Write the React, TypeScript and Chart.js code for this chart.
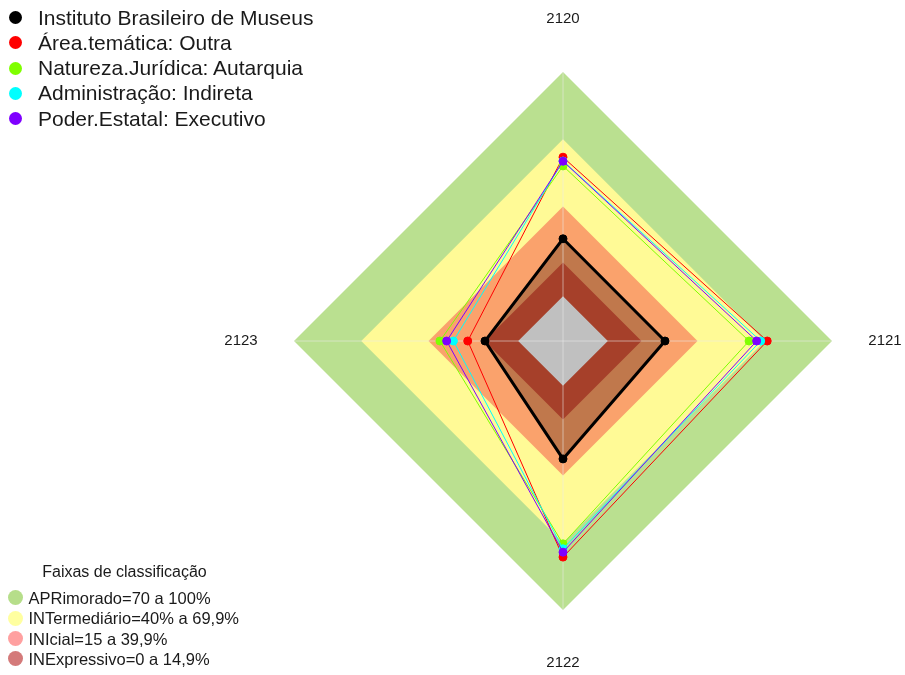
import { useEffect, useRef } from 'react';
import { Chart, registerables } from 'chart.js';

Chart.register(...registerables);

// ---- data ----
const axisLabels = ['2120', '2121', '2122', '2123'];

const seriesNames = [
  'Instituto Brasileiro de Museus',
  'Área.temática: Outra',
  'Natureza.Jurídica: Autarquia',
  'Administração: Indireta',
  'Poder.Estatal: Executivo',
];
const seriesColors = ['#000000', '#FF0000', '#7FFF00', '#00FFFF', '#7F00FF'];

const instituto = [25.6, 25.5, 32.6, 14.8];
const areaTematica = [62.0, 71.1, 76.4, 22.5];
const naturezaJuridica = [58.1, 63.0, 70.5, 34.9];
const administracao = [60.3, 68.2, 72.7, 28.9];
const poderEstatal = [60.2, 66.4, 74.2, 31.9];

const bandTitle = 'Faixas de classificação';
const bandNames = [
  'APRimorado=70 a 100%',
  'INTermediário=40% a 69,9%',
  'INIcial=15 a 39,9%',
  'INExpressivo=0 a 14,9%',
];
const bandUpper = [100, 70, 40, 15];
const holeValue = 0;
const scaleMin = -20;
const scaleMax = 100;

// ---- styles ----
const bandFill = ['rgb(186,224,144)', 'rgb(255,250,150)', 'rgb(250,162,108)', 'rgb(166,64,42)'];
const bandLegendColors = ['rgb(182,222,138)', 'rgb(255,255,160)', 'rgb(255,160,160)', 'rgb(212,122,122)'];
const institutoFill = 'rgb(192,120,76)';
const holeFill = 'rgb(192,192,192)';
const FONT = '"Liberation Sans", Arial, Helvetica, sans-serif';

const overlayPlugin = {
  id: 'overlay',
  afterDatasetDraw(chart: any, args: any) {
    const ds = chart.data.datasets[args.index];
    if (ds.label !== '__hole') return;
    const s = chart.scales.r;
    const ctx = chart.ctx;
    ctx.save();
    ctx.strokeStyle = 'rgba(235,235,235,0.55)';
    ctx.lineWidth = 1;
    for (let i = 0; i < chart.data.labels.length; i++) {
      const p = s.getPointPositionForValue(i, s.max);
      ctx.beginPath();
      ctx.moveTo(s.xCenter, s.yCenter);
      ctx.lineTo(p.x, p.y);
      ctx.stroke();
    }
    ctx.restore();
  },
  afterDraw(chart: any) {
    const s = chart.scales.r;
    const ctx = chart.ctx;
    ctx.save();
    ctx.fillStyle = '#1a1a1a';
    ctx.font = '15px ' + FONT;
    ctx.textAlign = 'center';
    ctx.textBaseline = 'middle';
    chart.data.labels.forEach((lab: string, i: number) => {
      const p = s.getPointPosition(i, s.drawingArea + 53);
      ctx.fillText(lab, p.x, p.y);
    });
    ctx.restore();
  },
};

export default function App() {
  const ref = useRef<HTMLCanvasElement | null>(null);

  useEffect(() => {
    if (!ref.current) return;
    const seriesData = [instituto, areaTematica, naturezaJuridica, administracao, poderEstatal];
    const datasets: any[] = [];

    // bands (outer to inner)
    bandUpper.forEach((v, i) => {
      datasets.push({
        label: '__band' + i,
        data: axisLabels.map(() => v),
        backgroundColor: bandFill[i],
        borderColor: 'transparent',
        borderWidth: 0,
        pointRadius: 0,
        fill: 'start',
        order: i === 3 ? 7 : 11 - i,
      });
    });
    // fill of Instituto polygon
    datasets.push({
      label: '__institutoFill',
      data: instituto,
      backgroundColor: institutoFill,
      borderColor: 'transparent',
      borderWidth: 0,
      pointRadius: 0,
      fill: 'start',
      order: 8,
    });
    // central hole
    datasets.push({
      label: '__hole',
      data: axisLabels.map(() => holeValue),
      backgroundColor: holeFill,
      borderColor: 'transparent',
      borderWidth: 0,
      pointRadius: 0,
      fill: 'start',
      order: 6,
    });
    // series
    seriesData.forEach((d, i) => {
      datasets.push({
        label: seriesNames[i],
        data: d,
        borderColor: seriesColors[i],
        backgroundColor: seriesColors[i],
        pointBackgroundColor: seriesColors[i],
        pointBorderColor: seriesColors[i],
        borderWidth: i === 0 ? 3 : 1,
        pointRadius: i === 0 ? 4 : 4,
        pointBorderWidth: 1,
        fill: false,
        order: 5 - i,
      });
    });

    const chart = new Chart(ref.current, {
      type: 'radar',
      data: { labels: axisLabels, datasets },
      options: {
        animation: false,
        responsive: false,
        layout: { padding: { left: 294, right: 73, top: 72, bottom: 65 } },
        plugins: { legend: { display: false }, tooltip: { enabled: false } },
        elements: { line: { tension: 0 } },
        scales: {
          r: {
            min: scaleMin,
            max: scaleMax,
            startAngle: 0,
            ticks: { display: false },
            grid: { display: false },
            angleLines: { display: false },
            pointLabels: { display: false },
          },
        },
      },
      plugins: [overlayPlugin],
    } as any);
    return () => chart.destroy();
  }, []);

  const topRowY = (i: number) => 17.5 + i * 25.3;
  const botRowY = (i: number) => 597.7 + i * 20.4;

  return (
    <div style={{ position: 'absolute', left: 0, top: 0, width: 905, height: 675, background: '#fff', fontFamily: FONT }}>
      <canvas ref={ref} width={905} height={675} style={{ position: 'absolute', left: 0, top: 0, display: 'block' }} />
      {seriesNames.map((n, i) => (
        <div key={n}>
          <div style={{ position: 'absolute', left: 9, top: topRowY(i) - 6.5, width: 13, height: 13, borderRadius: '50%', background: seriesColors[i] }} />
          <div style={{ position: 'absolute', left: 38, top: topRowY(i) - 12, height: 24, lineHeight: '24px', fontSize: 21, color: '#1a1a1a', whiteSpace: 'nowrap' }}>{n}</div>
        </div>
      ))}
      <div style={{ position: 'absolute', left: 0, width: 249, top: 571.7 - 10, height: 20, lineHeight: '20px', fontSize: 16, textAlign: 'center', color: '#1a1a1a', whiteSpace: 'nowrap' }}>{bandTitle}</div>
      {bandNames.map((n, i) => (
        <div key={n}>
          <div style={{ position: 'absolute', left: 7.5, top: botRowY(i) - 7.5, width: 15, height: 15, borderRadius: '50%', background: bandLegendColors[i] }} />
          <div style={{ position: 'absolute', left: 28.5, top: botRowY(i) - 10, height: 20, lineHeight: '20px', fontSize: 16.5, color: '#1a1a1a', whiteSpace: 'nowrap' }}>{n}</div>
        </div>
      ))}
    </div>
  );
}
